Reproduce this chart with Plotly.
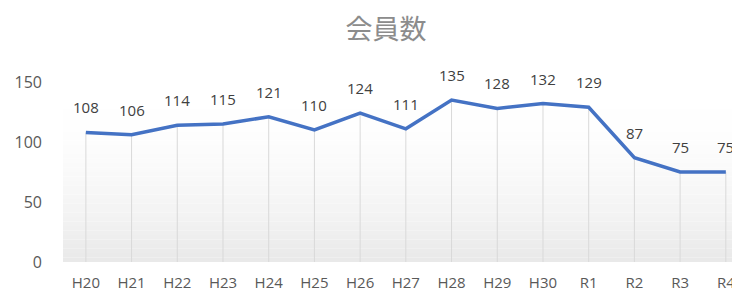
import plotly.graph_objects as go

categories = ["H20", "H21", "H22", "H23", "H24", "H25", "H26", "H27", "H28", "H29", "H30", "R1", "R2", "R3", "R4"]
members = [108, 106, 114, 115, 121, 110, 124, 111, 135, 128, 132, 129, 87, 75, 75]
y_ticks = [0, 50, 100, 150]

fig = go.Figure()

fig.add_trace(go.Scatter(
    x=categories, y=members, mode="lines",
    line=dict(color="#4472C4", width=3.5),
    error_y=dict(type="data", symmetric=False, array=[0] * len(members),
                 arrayminus=members, color="#d9d9d9", thickness=1, width=0),
    hoverinfo="skip", showlegend=False,
))

for c, v in zip(categories, members):
    fig.add_annotation(x=c, y=v, text=str(v), showarrow=False, yshift=25,
                       font=dict(family="Open Sans", size=15, color="#404040"))

# background gradient (white at top to light grey at bottom)
n = 40
for i in range(n):
    t = i / (n - 1)
    g = int(round(255 - (255 - 233) * (1 - t) ** 2))
    fig.add_shape(type="rect", xref="x domain", yref="y domain",
                  x0=0, x1=1, y0=i / n, y1=(i + 1) / n,
                  fillcolor=f"rgb({g},{g},{g})", line=dict(width=0), layer="below")

W, H = 732, 287
fig.update_layout(
    width=W, height=H,
    margin=dict(l=55, r=0, t=74, b=33, autoexpand=False),
    paper_bgcolor="white", plot_bgcolor="white",
    title=dict(text="会員数", x=378 / W, xanchor="center", y=1 - 22 / H, yanchor="middle",
               font=dict(family="Noto Sans CJK JP", size=27, color="#8c8c8c")),
    xaxis=dict(range=[-0.5, 14.31], showgrid=False, zeroline=False, showline=False,
               ticks="", automargin=False, ticklabelstandoff=10,
               tickfont=dict(family="Open Sans", size=15, color="#595959")),
    yaxis=dict(range=[0, 150], tickvals=y_ticks, showgrid=False, zeroline=False,
               showline=False, ticks="", ticklabelstandoff=20, automargin=False,
               tickfont=dict(family="Open Sans", size=16, color="#595959")),
)

fig.write_html("out.html")
